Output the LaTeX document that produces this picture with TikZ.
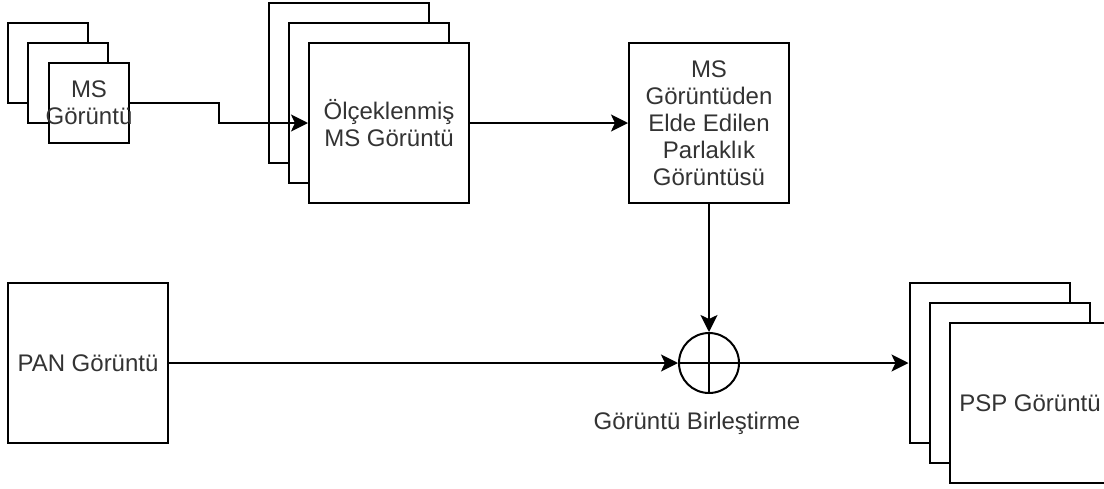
\documentclass[tikz,border=0pt]{standalone}
\usepackage{fontspec}
\setmainfont{Liberation Sans}
\usetikzlibrary{arrows.meta}
\definecolor{txt}{RGB}{51,51,51}
\begin{document}
\begin{tikzpicture}[x=1pt,y=-1pt,
  txtfont/.style={text=txt, font=\fontsize{24}{27}\selectfont},
  box/.style={draw=black, line width=2pt, fill=white, inner sep=0pt, align=center, txtfont},
  smallbox/.style={box, minimum width=80pt, minimum height=80pt},
  bigbox/.style={box, minimum width=160pt, minimum height=160pt},
  arr/.style={line width=2pt, -{Stealth[length=17pt,width=17pt,inset=4pt]}},
  plain/.style={line width=2pt}]
\useasboundingbox (0,0) rectangle (1104,488);

% multispectral image stack
\node[smallbox] (ms3) at (48,63) {};
\node[smallbox] (ms2) at (68,83) {};
\node[smallbox, label={[txtfont, align=center]center:{MS\\Görüntü}}] (ms1) at (89,103) {};

% scaled MS image stack
\node[bigbox] (sc3) at (348.5,83) {};
\node[bigbox] (sc2) at (369,103) {};
\node[bigbox] (sc1) at (389,123) {Ölçeklenmiş\\MS Görüntü};

% intensity image
\node[bigbox] (int) at (709,123) {MS\\Görüntüden\\Elde Edilen\\Parlaklık\\Görüntüsü};

% panchromatic image
\node[bigbox] (pan) at (88,363) {PAN Görüntü};

% fusion operator
\node[circle, draw=black, line width=2pt, minimum size=60pt, inner sep=0pt] (mix) at (709,363) {};
\draw[plain] (mix.north) -- (mix.south) (mix.west) -- (mix.east);
\node[txtfont, anchor=base] (mixlbl) at (697,429) {Görüntü Birleştirme};

% pan-sharpened image stack
\node[bigbox] (psp3) at (989.5,363) {};
\node[bigbox] (psp2) at (1010,383) {};
\node[bigbox] (psp1) at (1030,403) {PSP Görüntü};

% connectors
\coordinate (bend) at (219,103);
\draw[arr] (ms1.east) -- (bend) |- (sc1.west);
\draw[arr] (sc1.east) -- (int.west);
\draw[arr] (int.south) -- (mix.north);
\draw[arr] (pan.east) -- (mix.west);
\draw[arr] (mix.east) -- (psp3.west);
\end{tikzpicture}
\end{document}
